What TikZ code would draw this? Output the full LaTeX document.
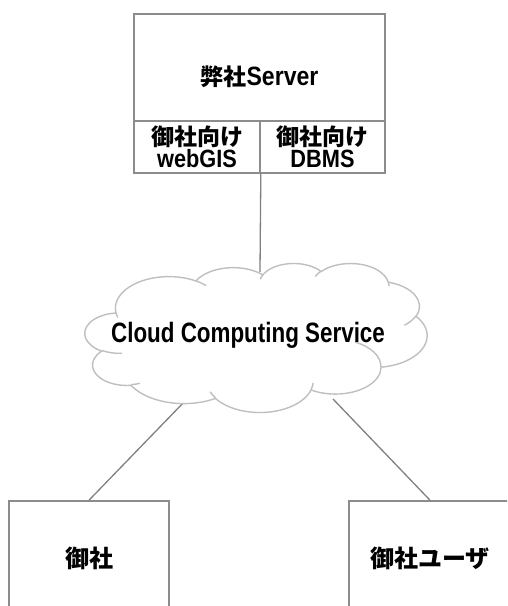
\documentclass[tikz,border=0pt]{standalone}
\usepackage{fontspec}
\newfontfamily\jp{Noto Sans CJK JP}
\newfontfamily\lat[FakeStretch=0.87]{Liberation Sans}
\newfontfamily\latc[FakeStretch=0.8]{Liberation Sans}
\definecolor{boxgray}{HTML}{8C8C8C}
\definecolor{cloudgray}{HTML}{BFBFBF}
\definecolor{linegray}{HTML}{808080}
% arc of a DrawingML-style ellipse: x radius, y radius, visual start angle, visual sweep
\newcommand\carc[4]{arc[x radius=#1, y radius=#2,
  start angle={atan2(#1*sin(#3),#2*cos(#3))},
  delta angle={mod(atan2(#1*sin(#3+#4),#2*cos(#3+#4))-atan2(#1*sin(#3),#2*cos(#3))+720,360)}]}
\tikzset{
  box/.style={draw=boxgray, line width=1.6pt, fill=white, inner sep=0pt},
  conn/.style={draw=linegray, line width=1.3pt},
  cloudline/.style={draw=cloudgray, line width=1.4pt},
}
\begin{document}
\begin{tikzpicture}[x=1pt,y=-1pt]
\useasboundingbox (0,0) rectangle (507,606);
\clip (0,0) rectangle (507,606);
% connector end points on the cloud
\coordinate (ctop) at (260,272);
\coordinate (cbl) at (186,400);
\coordinate (cbr) at (333,399);
% boxes
\node[box, minimum width=251pt, minimum height=106.7pt] (srv) at (259.5,67.35) {};
\node (srvt) at (259.5,77) {{\jp\bfseries\fontsize{23}{23}\selectfont 弊社}{\lat\bfseries\fontsize{26.5}{26}\selectfont Server}};
\node[box, minimum width=126pt, minimum height=52.3pt, align=center, font=\fontsize{23}{22}\selectfont] (gis) at (197,146.85)
  {{\jp\bfseries 御社向け}\\{\lat\bfseries\fontsize{25}{22}\selectfont webGIS}};
\node[box, minimum width=125pt, minimum height=52.3pt, align=center, font=\fontsize{23}{22}\selectfont] (dbms) at (322.5,146.85)
  {{\jp\bfseries 御社向け}\\{\lat\bfseries\fontsize{25}{22}\selectfont DBMS}};
\node[box, minimum width=160pt, minimum height=115pt, font=\fontsize{24}{24}\selectfont] (us) at (89,558.5) {\jp\bfseries 御社};
\node[box, minimum width=162pt, minimum height=115pt, font=\fontsize{24}{24}\selectfont] (usr) at (430,558.5) {\jp\bfseries 御社ユーザ};
% connectors
\draw[conn] (gis.south east) -- (ctop);
\draw[conn] (cbl) -- (us.north);
\draw[conn] (cbr) -- (usr.north);
% cloud
\begin{scope}[shift={(85,263)}, xscale=7.917, yscale=3.449]
\draw[cloudline, fill=white] (3.900,14.370)
  \carc{6.753}{9.190}{-190.4875}{123.7805}
  \carc{5.333}{7.267}{-144.1024}{89.9452}
  \carc{4.365}{5.945}{-145.8079}{99.7230}
  \carc{4.857}{6.595}{-130.9861}{117.2417}
  \carc{5.333}{7.273}{-78.7089}{109.0269}
  \carc{6.775}{9.220}{-46.2673}{130.2690}
  \carc{5.785}{7.867}{0.6250}{114.0333}
  \carc{6.752}{9.215}{22.4516}{115.1726}
  \carc{7.720}{10.543}{66.2426}{75.7110}
  \carc{4.360}{5.918}{-274.9421}{146.7356}
  \carc{4.345}{5.945}{-246.8285}{152.5189} -- cycle;
\draw[cloudline]
  (4.693,26.177) \carc{4.345}{5.945}{86.7420}{26.4295}
  (6.928,34.899) \carc{4.360}{5.918}{73.6105}{11.4475}
  (16.478,39.090) \carc{6.752}{9.215}{137.6242}{14.0811}
  (28.827,34.751) \carc{6.752}{9.215}{6.4533}{15.9984}
  (34.129,22.954) \carc{5.785}{7.867}{-70.2924}{70.9174}
  (41.798,15.354) \carc{5.333}{7.273}{30.3180}{27.7515}
  (38.324,5.426) \carc{4.857}{6.595}{-13.7443}{14.8589}
  (29.078,3.952) \carc{4.857}{6.595}{-149.1815}{18.1954}
  (22.141,4.720) \carc{4.365}{5.945}{-163.4943}{17.6864}
  (14.000,5.192) \carc{6.753}{9.190}{-66.7070}{12.3194}
  (4.127,15.789) \carc{6.753}{9.190}{157.6544}{11.8582};
\end{scope}
\node[font=\latc\bfseries\fontsize{28}{28}\selectfont] (cloud) at (248,335) {Cloud Computing Service};
\end{tikzpicture}
\end{document}
